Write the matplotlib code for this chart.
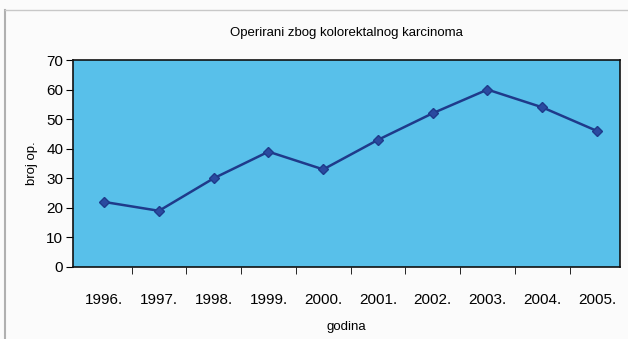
import matplotlib
matplotlib.use("Agg")
import matplotlib.pyplot as plt

years = ["1996.", "1997.", "1998.", "1999.", "2000.", "2001.", "2002.", "2003.", "2004.", "2005."]
values = [22, 19, 30, 39, 33, 43, 52, 60, 54, 46]
yticks = [0, 10, 20, 30, 40, 50, 60, 70]

plt.rcParams['font.family'] = ['Liberation Sans', 'DejaVu Sans']

fig = plt.figure(figsize=(6.28, 3.39), dpi=100)
fig.patch.set_facecolor('#fbfbfb')
# outer frame lines
fig.add_artist(plt.Line2D([5/628, 5/628], [0, 1-10/339], color='#b0b0b0', lw=1.5, transform=fig.transFigure))
fig.add_artist(plt.Line2D([5/628, 1], [1-10/339, 1-10/339], color='#c8c8c8', lw=1, transform=fig.transFigure))

ax = fig.add_axes([73/628, 1-267/339, (620-73)/628, (267-60)/339])
ax.set_facecolor('#58c0ea')
x = list(range(len(years)))
ax.plot(x, values, color='#1f3a8a', lw=1.8, marker='D', markersize=5.5,
        markerfacecolor='#2a4aa0', markeredgecolor='#1f3a8a')
ax.set_xlim(-0.57, 9.42)
ax.set_ylim(0, 70)
ax.set_yticks(yticks)
ax.set_yticklabels([str(v) for v in yticks], fontsize=11)
ax.set_xticks(x)
ax.set_xticklabels(years, fontsize=11)
ax.set_xticks([k + 0.5 for k in range(len(years) - 1)], minor=True)
ax.tick_params(axis='x', which='major', length=0, pad=19)
ax.tick_params(axis='x', which='minor', length=5, direction='out', color='black')
ax.tick_params(axis='y', length=5, direction='out', pad=2)
for s in ax.spines.values():
    s.set_color('#111111')
    s.set_linewidth(1.2)

ax.set_title("Operirani zbog kolorektalnog karcinoma", fontsize=9.5, pad=17)
ax.set_ylabel("broj op.", fontsize=9.5, labelpad=6)
ax.set_xlabel("godina", fontsize=9.5, labelpad=10)

fig.savefig("out.png", dpi=100, facecolor=fig.get_facecolor())
